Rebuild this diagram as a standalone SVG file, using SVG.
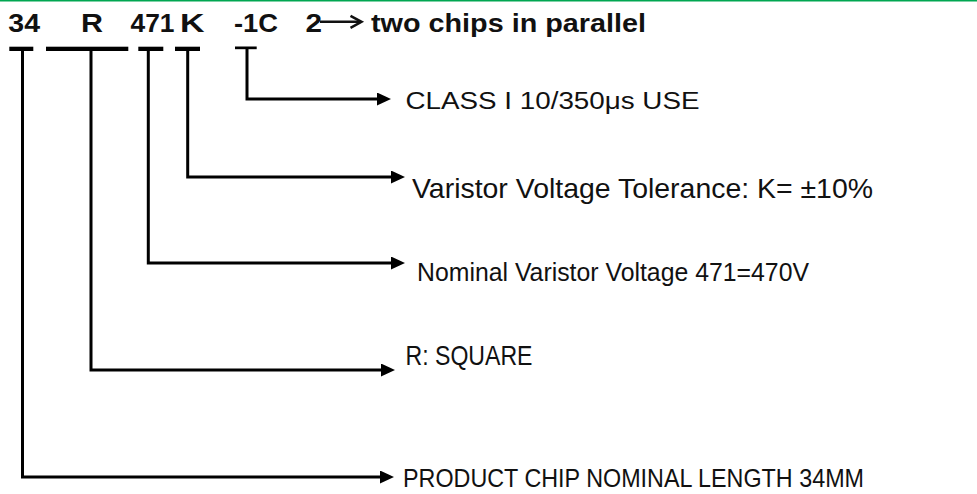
<svg xmlns="http://www.w3.org/2000/svg" width="977" height="494" viewBox="0 0 977 494">
  <defs>
    <marker id="ah" markerUnits="userSpaceOnUse" markerWidth="16" markerHeight="14" refX="4" refY="6.5" orient="auto">
      <path d="M0,0 L14,6.5 L0,13 z" fill="#000"/>
    </marker>
    <style>
      .t { font-family: "Liberation Sans", Arial, sans-serif; fill: #111; }
      .b { font-weight: bold; font-size: 25px; }
      .lbl { font-weight: normal; }
      .bar { fill: #000; }
      .conn { fill: none; stroke: #000; stroke-width: 3; marker-end: url(#ah); }
    </style>
  </defs>
  <rect x="0" y="0" width="977" height="494" fill="#fff"/>
  <line x1="0" y1="0.75" x2="977" y2="0.75" stroke="#00a651" stroke-width="1.5"/>

  <g id="code">
    <g id="seg-34"><text class="t b" x="8.3" y="31.7" textLength="31.7" lengthAdjust="spacingAndGlyphs">34</text><rect class="bar" x="9.3" y="46.7" width="24" height="4.3"/></g>
    <g id="seg-R"><text class="t b" x="81" y="31.7" textLength="22" lengthAdjust="spacingAndGlyphs">R</text><rect class="bar" x="46" y="46.7" width="82.3" height="4.3"/></g>
    <g id="seg-471"><text class="t b" x="130.5" y="31.7" textLength="44" lengthAdjust="spacingAndGlyphs">471</text><rect class="bar" x="138.3" y="46.7" width="25" height="4.3"/></g>
    <g id="seg-K"><text class="t b" x="180" y="31.7" textLength="24.5" lengthAdjust="spacingAndGlyphs">K</text><rect class="bar" x="175" y="46.7" width="25" height="4.3"/></g>
    <g id="seg-1C"><text class="t b" x="234" y="31.7" textLength="44" lengthAdjust="spacingAndGlyphs">-1C</text><rect class="bar" x="235" y="46.5" width="21.7" height="2.7"/></g>
    <g id="seg-2">
      <text class="t b" x="305.5" y="31.7" textLength="16.5" lengthAdjust="spacingAndGlyphs">2</text>
      <path d="M320,21.8 H361" stroke="#111" stroke-width="2.5" fill="none"/>
      <path d="M350.5,15.8 L361.5,21.8 L350.5,27.8" stroke="#111" stroke-width="2.5" fill="none"/>
      <text class="t b" x="371" y="31.7" textLength="275" lengthAdjust="spacingAndGlyphs">two chips in parallel</text>
    </g>
  </g>

  <g id="connectors">
    <path class="conn" d="M22.5,51 V477 H384"/>
    <path class="conn" d="M91,51 V370 H385"/>
    <path class="conn" d="M148.3,51 V263 H395"/>
    <path class="conn" d="M187.7,51 V177 H395"/>
    <path class="conn" d="M247,49 V99 H381"/>
  </g>

  <g id="label-class"><text class="t lbl" x="405.5" y="109" font-size="23" textLength="294" lengthAdjust="spacingAndGlyphs">CLASS I 10/350μs USE</text></g>
  <g id="label-tolerance"><text class="t lbl" x="412" y="197.5" font-size="27.5" textLength="461" lengthAdjust="spacingAndGlyphs">Varistor Voltage Tolerance: K= ±10%</text></g>
  <g id="label-voltage"><text class="t lbl" x="417" y="280.5" font-size="26" textLength="392" lengthAdjust="spacingAndGlyphs">Nominal Varistor Voltage 471=470V</text></g>
  <g id="label-shape"><text class="t lbl" x="405.5" y="365" font-size="28" textLength="127" lengthAdjust="spacingAndGlyphs">R: SQUARE</text></g>
  <g id="label-length"><text class="t lbl" x="403" y="486.7" font-size="25.6" textLength="461" lengthAdjust="spacingAndGlyphs">PRODUCT CHIP NOMINAL LENGTH 34MM</text></g>
</svg>
